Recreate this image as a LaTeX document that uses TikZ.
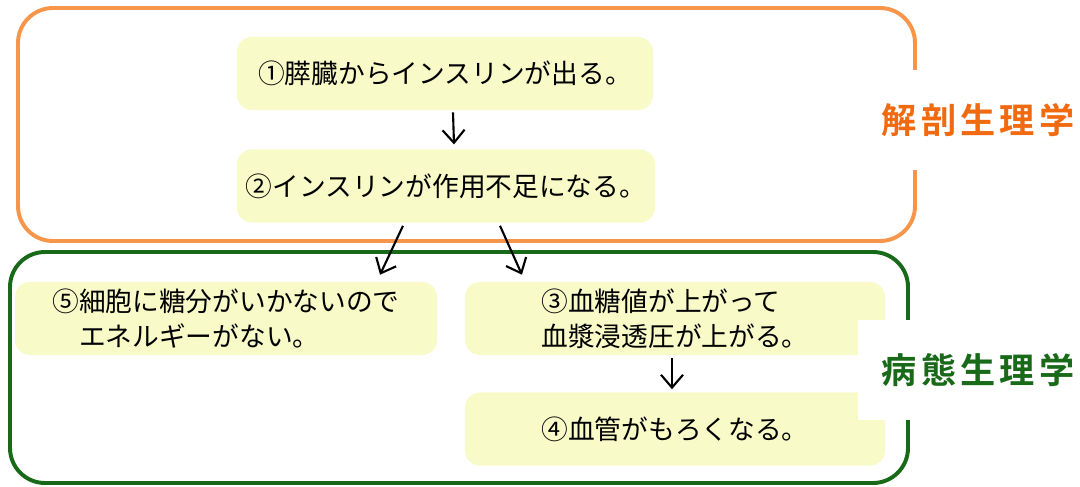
\documentclass[tikz,border=0pt]{standalone}
\usepackage{fontspec}
\setmainfont{Noto Sans CJK JP}
\newfontfamily\labelfont[LetterSpace=12]{Noto Sans CJK JP Bold}
\usetikzlibrary{arrows.meta,positioning}

\definecolor{boxfill}{RGB}{248,250,200}
\definecolor{anaframe}{RGB}{247,150,74}
\definecolor{anatext}{RGB}{242,106,16}
\definecolor{pathgreen}{RGB}{24,106,24}

\begin{document}
\begin{tikzpicture}[x=0.025cm,y=-0.025cm,
    stepbox/.style={fill=boxfill, rounded corners=0.375cm, minimum height=1.825cm,
        align=left, font=\fontsize{19pt}{25pt}\selectfont},
    frame/.style={line width=2.8pt, rounded corners=0.875cm},
    tag/.style={fill=white, minimum width=6cm, minimum height=2.5cm,
        font=\labelfont\fontsize{25pt}{30pt}\selectfont},
    flow/.style={-{Straight Barb[length=3.2mm,width=5.5mm]}, line width=1.5pt}]
    \useasboundingbox (0,0) rectangle (1080,487);

    % frames
    \draw[frame, anaframe] (18,8) rectangle (915,241);
    \draw[frame, pathgreen] (10,252) rectangle (908,483);

    % steps
    \node[stepbox, minimum width=10.4cm] (insulin) at (445,73.5) {①膵臓からインスリンが出る。};
    \node[stepbox, minimum width=10.45cm] (lack) at (446,186) {②インスリンが作用不足になる。};
    \node[stepbox, minimum width=10.55cm] (energy) at (226,318.5) {⑤細胞に糖分がいかないので\\　エネルギーがない。};
    \node[stepbox, minimum width=10.5cm] (sugar) at (675,318.5) {③血糖値が上がって\\血漿浸透圧が上がる。};
    \node[stepbox, minimum width=10.5cm] (vessel) at (675,429) {④血管がもろくなる。};

    \draw[flow] ([xshift=0.2cm,yshift=-0.05cm]insulin.south) -- ([xshift=0.2cm,yshift=0.12cm]lack.north);
    \draw[flow] ([xshift=-1.075cm,yshift=-0.075cm]lack.south) -- ([xshift=3.85cm,yshift=0.175cm]energy.north);
    \draw[flow] ([xshift=1.35cm,yshift=-0.075cm]lack.south) -- ([xshift=-3.825cm,yshift=0.175cm]sugar.north);
    \draw[flow] ([xshift=-0.075cm,yshift=-0.075cm]sugar.south) -- ([xshift=-0.075cm,yshift=0.075cm]vessel.north);

    % labels
    \node[tag, text=anatext] (anatomy) at (978,120) {解剖生理学};
    \node[tag, text=pathgreen] (pathology) at (978,370) {病態生理学};
\end{tikzpicture}
\end{document}
